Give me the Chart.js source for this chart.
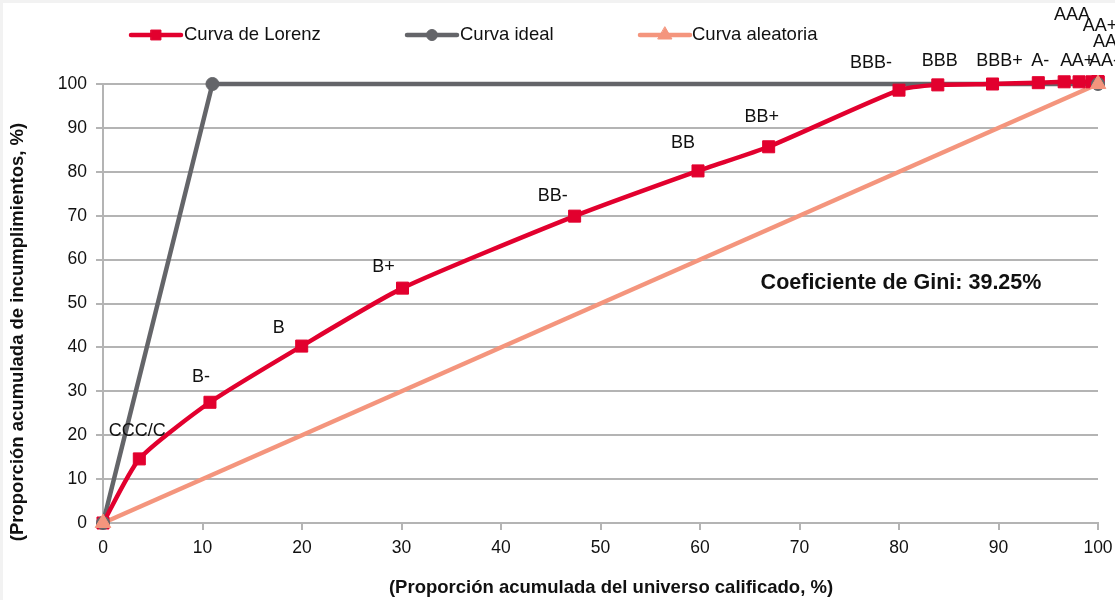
<!DOCTYPE html>
<html>
<head>
<meta charset="utf-8">
<script src="https://cdn.jsdelivr.net/npm/chart.js@4/dist/chart.umd.min.js"></script>
<style>
  html, body { margin: 0; padding: 0; background: #f2f2f2; }
  #wrap { position: absolute; left: 0; top: 0; width: 1115px; height: 600px; }
</style>
</head>
<body>
<div id="wrap"><canvas id="c" width="1115" height="600"></canvas></div>
<script>
// ---- Data ----
const ratingLabels = ['', 'CCC/C', 'B-', 'B', 'B+', 'BB-', 'BB', 'BB+', 'BBB-', 'BBB', 'BBB+', 'A-', 'A', 'A+', 'AA-', 'AA', 'AA+', 'AAA'];
const lorenzX = [0, 3.65, 10.75, 19.97, 30.1, 47.4, 59.8, 66.9, 80.0, 83.9, 89.4, 94.0, 96.6, 98.1, 99.4, 100, 100, 100];
const lorenzY = [0, 14.6, 27.5, 40.3, 53.5, 69.9, 80.2, 85.7, 98.6, 99.8, 100.0, 100.3, 100.5, 100.5, 100.5, 100.5, 100.5, 100.5];
const idealX = [0, 11.0, 100];
const idealY = [0, 100, 100];
const randomX = [0, 100];
const randomY = [0, 100];
const seriesNames = ['Curva de Lorenz', 'Curva ideal', 'Curva aleatoria'];
const giniText = 'Coeficiente de Gini: 39.25%';
const xTitle = '(Proporción acumulada del universo calificado, %)';
const yTitle = '(Proporción acumulada de incumplimientos, %)';

// ---- Styles ----
const RED = '#E2002E', GRAY = '#646569', SALMON = '#F4957D', GRID = '#B4B4B4';
const FONT = '"Liberation Sans", Arial, sans-serif';
// label offsets (px) relative to each Lorenz marker
const labelOffsets = [[0,0],[-2,-28],[-9,-25],[-23,-18],[-19,-21],[-22,-20],[-15,-28],[-7,-30],[-28,-27],[2,-24],[7,-23],[2,-22],[2,-21],[4,-21],[12,-21],[7,-40],[2,-56],[-26,-67]];

const toPts = (xs, ys) => xs.map((x, i) => ({ x: x, y: ys[i] }));

const framePlugin = {
  id: 'frame',
  beforeDraw(chart) {
    const ctx = chart.ctx;
    ctx.save();
    ctx.fillStyle = '#f2f2f2';
    ctx.fillRect(0, 0, chart.width, chart.height);
    ctx.fillStyle = '#ffffff';
    ctx.fillRect(3, 3, chart.width - 3, chart.height - 3);
    ctx.restore();
  }
};

const extrasPlugin = {
  id: 'extras',
  afterDraw(chart) {
    const ctx = chart.ctx;
    ctx.save();
    // point labels
    const meta = chart.getDatasetMeta(3);
    ctx.font = '18px ' + FONT;
    ctx.fillStyle = '#111';
    ctx.textAlign = 'center';
    ctx.textBaseline = 'middle';
    meta.data.forEach((el, i) => {
      const t = ratingLabels[i];
      if (!t) return;
      const o = labelOffsets[i];
      ctx.fillText(t, el.x + o[0], el.y + o[1]);
    });
    // Gini text
    ctx.font = 'bold 21.5px ' + FONT;
    ctx.fillText(giniText, 901, 283);
    // axis titles
    ctx.font = 'bold 18.5px ' + FONT;
    ctx.fillText(xTitle, 611, 588);
    ctx.save();
    ctx.translate(18, 332);
    ctx.rotate(-Math.PI / 2);
    ctx.fillText(yTitle, 0, 0);
    ctx.restore();
    // legend
    const ds = chart.data.datasets;
    const items = [
      { x: 131, tx: 184, line: ds[0], mk: ds[3], r: 7 },
      { x: 407, tx: 460, line: ds[1], mk: ds[4], r: 5.5 },
      { x: 640, tx: 692, line: ds[2], mk: ds[5], r: 8 }
    ];
    const ly = 35;
    items.forEach(it => {
      ctx.strokeStyle = it.line.borderColor;
      ctx.lineWidth = 4.5;
      ctx.lineCap = 'round';
      ctx.beginPath();
      ctx.moveTo(it.x, ly);
      ctx.lineTo(it.x + 50, ly);
      ctx.stroke();
      ctx.fillStyle = it.mk.pointBackgroundColor;
      ctx.strokeStyle = it.mk.pointBorderColor;
      ctx.lineWidth = 1;
      Chart.helpers.drawPoint(ctx, { pointStyle: it.mk.pointStyle, rotation: 0, borderWidth: 1, radius: it.r }, it.x + 25, ly);
      ctx.fillStyle = '#111';
      ctx.font = '18.5px ' + FONT;
      ctx.textAlign = 'left';
      ctx.textBaseline = 'middle';
      ctx.fillText(it.line.label, it.tx, ly);
    });
    ctx.restore();
  }
};

const lineOnly = { pointRadius: 0, borderWidth: 4.5, clip: 20 };
const markOnly = { showLine: false, borderWidth: 0, pointBorderWidth: 1, clip: 20 };

new Chart(document.getElementById('c'), {
  type: 'line',
  data: {
    datasets: [
      // lines (drawn first)
      Object.assign({ label: seriesNames[0], data: toPts(lorenzX, lorenzY), borderColor: RED, backgroundColor: RED, tension: 0.2, order: 4 }, lineOnly),
      Object.assign({ label: seriesNames[1], data: toPts(idealX, idealY), borderColor: GRAY, backgroundColor: GRAY, tension: 0, order: 5 }, lineOnly),
      Object.assign({ label: seriesNames[2], data: toPts(randomX, randomY), borderColor: SALMON, backgroundColor: SALMON, tension: 0, order: 3 }, lineOnly),
      // markers (drawn on top)
      Object.assign({ label: seriesNames[0], data: toPts(lorenzX, lorenzY), pointStyle: 'rect', pointRadius: 8.5, pointBackgroundColor: RED, pointBorderColor: RED, order: 2 }, markOnly),
      Object.assign({ label: seriesNames[1], data: toPts(idealX, idealY), pointStyle: 'circle', pointRadius: 6.5, pointBackgroundColor: GRAY, pointBorderColor: GRAY, order: 1 }, markOnly),
      Object.assign({ label: seriesNames[2], data: toPts(randomX, randomY), pointStyle: 'triangle', pointRadius: 9, pointBackgroundColor: SALMON, pointBorderColor: SALMON, order: 0 }, markOnly)
    ]
  },
  options: {
    responsive: false,
    animation: false,
    events: [],
    layout: { padding: { left: 0, right: 17, top: 84, bottom: 0 } },
    plugins: { legend: { display: false }, tooltip: { enabled: false } },
    scales: {
      x: {
        type: 'linear', min: 0, max: 100,
        ticks: { stepSize: 10, color: '#111', font: { family: FONT, size: 17.5 }, padding: 8, maxRotation: 0 },
        grid: { drawOnChartArea: false, drawTicks: true, tickLength: 7, color: GRID, lineWidth: 2 },
        border: { display: true, color: GRID, width: 2 },
        afterFit(s) { s.height = 77; s.paddingRight = 0; s.paddingLeft = 0; }
      },
      y: {
        type: 'linear', min: 0, max: 100,
        ticks: { stepSize: 10, color: '#111', font: { family: FONT, size: 17.5 }, padding: 9 },
        grid: { color: GRID, lineWidth: 2, tickLength: 7 },
        border: { display: true, color: GRID, width: 2 },
        afterFit(s) { s.width = 103; s.paddingTop = 0; s.paddingBottom = 0; }
      }
    }
  },
  plugins: [framePlugin, extrasPlugin]
});
</script>
</body>
</html>
